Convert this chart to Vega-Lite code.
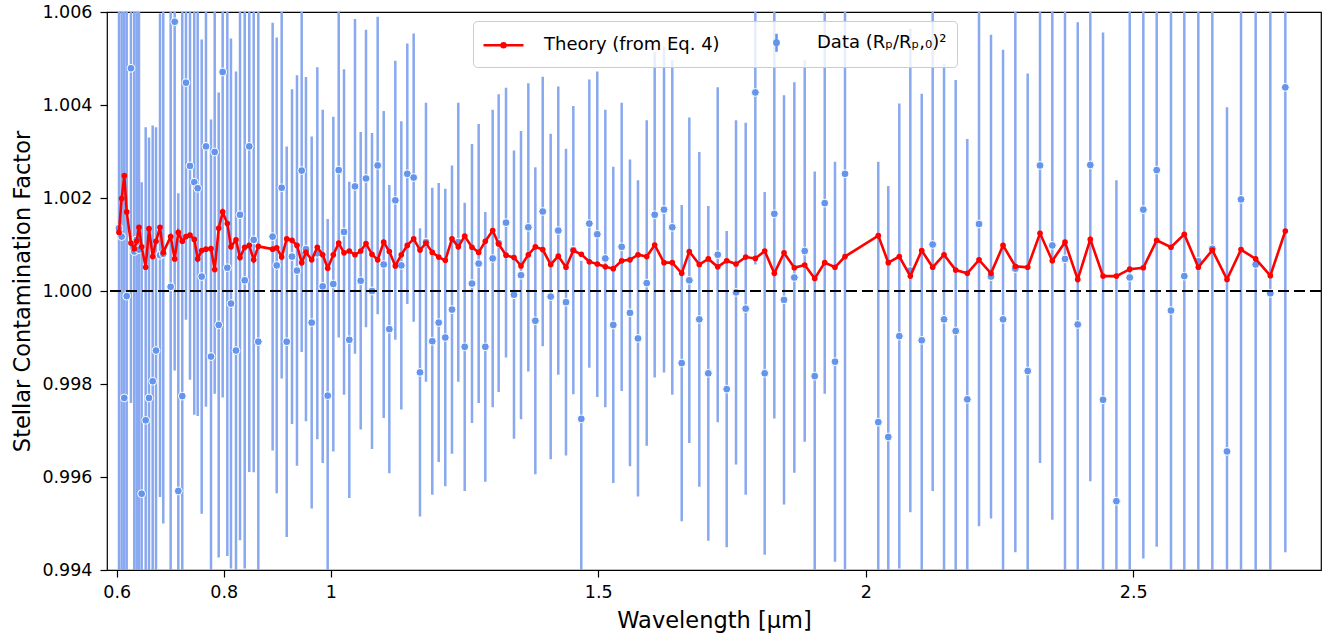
{
"$schema":"https://vega.github.io/schema/vega-lite/v6.json",
"width":1214,"height":558,
"autosize":{"type":"none"},
"padding":{"left":107,"top":12,"right":12,"bottom":70},
"background":"white",
"config":{
 "font":"DejaVu Sans",
 "view":{"stroke":"#000000","strokeWidth":1.2},
 "axis":{"grid":false,"domain":false,"tickColor":"#000000","tickWidth":1.2,"tickSize":7,"labelColor":"#000000","labelFontSize":17.5,"titleColor":"#000000","titleFontSize":22.5,"titleFontWeight":"normal","labelFont":"DejaVu Sans","titleFont":"DejaVu Sans"}
},
"data":{"values":[
{"l":0.6043,"t":1.00126,"d":1.00135,"e":0.0090},
{"l":0.6093,"t":1.00199,"d":1.00117,"e":0.0095},
{"l":0.6142,"t":1.00248,"d":0.99770,"e":0.0090},
{"l":0.6187,"t":1.00170,"d":0.99989,"e":0.0092},
{"l":0.6267,"t":1.00103,"d":1.00479,"e":0.0072},
{"l":0.6329,"t":1.00091,"d":1.00085,"e":0.0090},
{"l":0.6374,"t":1.00107,"d":1.00110,"e":0.0085},
{"l":0.6417,"t":1.00137,"d":1.00089,"e":0.0088},
{"l":0.6467,"t":1.00095,"d":0.99564,"e":0.0067},
{"l":0.6542,"t":1.00051,"d":0.99722,"e":0.0063},
{"l":0.6604,"t":1.00134,"d":0.99770,"e":0.0056},
{"l":0.6673,"t":1.00074,"d":0.99806,"e":0.0055},
{"l":0.6735,"t":1.00107,"d":0.99872,"e":0.0048},
{"l":0.6810,"t":1.00137,"d":1.00077,"e":0.0052},
{"l":0.6871,"t":1.00083,"d":1.00080,"e":0.0058},
{"l":0.7009,"t":1.00117,"d":1.00009,"e":0.0075},
{"l":0.7084,"t":1.00069,"d":1.00579,"e":0.0075},
{"l":0.7152,"t":1.00126,"d":0.99570,"e":0.0064},
{"l":0.7226,"t":1.00107,"d":0.99774,"e":0.0085},
{"l":0.7295,"t":1.00117,"d":1.00448,"e":0.0051},
{"l":0.7370,"t":1.00120,"d":1.00269,"e":0.0046},
{"l":0.7450,"t":1.00111,"d":1.00234,"e":0.0050},
{"l":0.7514,"t":1.00069,"d":1.00221,"e":0.0049},
{"l":0.7589,"t":1.00087,"d":1.00031,"e":0.0051},
{"l":0.7669,"t":1.00090,"d":1.00311,"e":0.0056},
{"l":0.7763,"t":1.00091,"d":0.99859,"e":0.0051},
{"l":0.7832,"t":1.00046,"d":1.00299,"e":0.0052},
{"l":0.7907,"t":1.00135,"d":0.99927,"e":0.0050},
{"l":0.7981,"t":1.00170,"d":1.00471,"e":0.0070},
{"l":0.8068,"t":1.00145,"d":1.00050,"e":0.0062},
{"l":0.8136,"t":1.00095,"d":0.99973,"e":0.0057},
{"l":0.8230,"t":1.00110,"d":0.99872,"e":0.0060},
{"l":0.8305,"t":1.00072,"d":1.00164,"e":0.0070},
{"l":0.8393,"t":1.00094,"d":1.00023,"e":0.0062},
{"l":0.8478,"t":1.00098,"d":1.00311,"e":0.0070},
{"l":0.8561,"t":1.00067,"d":1.00110,"e":0.0050},
{"l":0.8647,"t":1.00096,"d":0.99891,"e":0.0075},
{"l":0.8915,"t":1.00090,"d":1.00117,"e":0.0046},
{"l":0.8991,"t":1.00093,"d":1.00055,"e":0.0049},
{"l":0.9084,"t":1.00073,"d":1.00222,"e":0.0041},
{"l":0.9178,"t":1.00112,"d":0.99891,"e":0.0042},
{"l":0.9277,"t":1.00109,"d":1.00074,"e":0.0036},
{"l":0.9370,"t":1.00098,"d":1.00044,"e":0.0042},
{"l":0.9458,"t":1.00061,"d":1.00259,"e":0.0039},
{"l":0.9538,"t":1.00083,"d":1.00090,"e":0.0037},
{"l":0.9645,"t":1.00067,"d":0.99932,"e":0.0040},
{"l":0.9750,"t":1.00094,"d":1.00081,"e":0.0040},
{"l":0.9851,"t":1.00078,"d":1.00010,"e":0.0038},
{"l":0.9944,"t":1.00049,"d":0.99775,"e":0.0038},
{"l":1.0049,"t":1.00078,"d":1.00015,"e":0.0036},
{"l":1.0150,"t":1.00103,"d":1.00260,"e":0.0036},
{"l":1.0249,"t":1.00082,"d":1.00127,"e":0.0035},
{"l":1.0348,"t":1.00086,"d":0.99895,"e":0.0034},
{"l":1.0454,"t":1.00078,"d":1.00225,"e":0.0036},
{"l":1.0561,"t":1.00086,"d":1.00022,"e":0.0032},
{"l":1.0660,"t":1.00102,"d":1.00242,"e":0.0032},
{"l":1.0772,"t":1.00079,"d":1.00000,"e":0.0034},
{"l":1.0878,"t":1.00067,"d":1.00270,"e":0.0032},
{"l":1.0991,"t":1.00105,"d":1.00057,"e":0.0033},
{"l":1.1096,"t":1.00085,"d":0.99918,"e":0.0031},
{"l":1.1208,"t":1.00054,"d":1.00195,"e":0.0030},
{"l":1.1320,"t":1.00078,"d":1.00055,"e":0.0031},
{"l":1.1432,"t":1.00098,"d":1.00252,"e":0.0028},
{"l":1.1551,"t":1.00112,"d":1.00244,"e":0.0031},
{"l":1.1669,"t":1.00088,"d":0.99825,"e":0.0031},
{"l":1.1781,"t":1.00103,"d":1.00105,"e":0.0030},
{"l":1.1899,"t":1.00083,"d":0.99892,"e":0.0033},
{"l":1.2019,"t":1.00073,"d":0.99932,"e":0.0030},
{"l":1.2142,"t":1.00066,"d":0.99900,"e":0.0032},
{"l":1.2267,"t":1.00112,"d":0.99960,"e":0.0031},
{"l":1.2385,"t":1.00095,"d":1.00105,"e":0.0030},
{"l":1.2505,"t":1.00118,"d":0.99880,"e":0.0031},
{"l":1.2641,"t":1.00094,"d":1.00016,"e":0.0030},
{"l":1.2766,"t":1.00083,"d":1.00059,"e":0.0030},
{"l":1.2890,"t":1.00107,"d":0.99880,"e":0.0029},
{"l":1.3028,"t":1.00130,"d":1.00070,"e":0.0032},
{"l":1.3140,"t":1.00101,"d":1.00103,"e":0.0032},
{"l":1.3277,"t":1.00077,"d":1.00147,"e":0.0029},
{"l":1.3426,"t":1.00072,"d":0.99992,"e":0.0031},
{"l":1.3557,"t":1.00054,"d":1.00034,"e":0.0031},
{"l":1.3694,"t":1.00078,"d":1.00137,"e":0.0031},
{"l":1.3825,"t":1.00095,"d":0.99936,"e":0.0033},
{"l":1.3963,"t":1.00089,"d":1.00171,"e":0.0029},
{"l":1.4112,"t":1.00057,"d":0.99988,"e":0.0035},
{"l":1.4254,"t":1.00075,"d":1.00130,"e":0.0031},
{"l":1.4398,"t":1.00051,"d":0.99976,"e":0.0033},
{"l":1.4535,"t":1.00087,"d":1.00088,"e":0.0031},
{"l":1.4684,"t":1.00079,"d":0.99725,"e":0.0034},
{"l":1.4834,"t":1.00063,"d":1.00145,"e":0.0031},
{"l":1.4983,"t":1.00058,"d":1.00122,"e":0.0035},
{"l":1.5133,"t":1.00052,"d":1.00070,"e":0.0032},
{"l":1.5282,"t":1.00048,"d":0.99927,"e":0.0034},
{"l":1.5439,"t":1.00065,"d":1.00095,"e":0.0031},
{"l":1.5594,"t":1.00067,"d":0.99953,"e":0.0033},
{"l":1.5744,"t":1.00078,"d":0.99898,"e":0.0034},
{"l":1.5907,"t":1.00074,"d":1.00017,"e":0.0035},
{"l":1.6056,"t":1.00099,"d":1.00164,"e":0.0035},
{"l":1.6230,"t":1.00061,"d":1.00175,"e":0.0035},
{"l":1.6385,"t":1.00061,"d":1.00137,"e":0.0036},
{"l":1.6561,"t":1.00038,"d":0.99845,"e":0.0034},
{"l":1.6703,"t":1.00085,"d":1.00023,"e":0.0035},
{"l":1.6890,"t":1.00057,"d":0.99939,"e":0.0036},
{"l":1.7058,"t":1.00069,"d":0.99823,"e":0.0036},
{"l":1.7234,"t":1.00052,"d":1.00078,"e":0.0036},
{"l":1.7402,"t":1.00065,"d":0.99789,"e":0.0034},
{"l":1.7576,"t":1.00058,"d":0.99997,"e":0.0037},
{"l":1.7757,"t":1.00073,"d":0.99962,"e":0.0040},
{"l":1.7937,"t":1.00070,"d":1.00427,"e":0.0037},
{"l":1.8112,"t":1.00086,"d":0.99823,"e":0.0039},
{"l":1.8292,"t":1.00038,"d":1.00166,"e":0.0044},
{"l":1.8473,"t":1.00082,"d":0.99981,"e":0.0044},
{"l":1.8666,"t":1.00050,"d":1.00029,"e":0.0042},
{"l":1.8860,"t":1.00056,"d":1.00086,"e":0.0041},
{"l":1.9047,"t":1.00027,"d":0.99817,"e":0.0044},
{"l":1.9234,"t":1.00061,"d":1.00189,"e":0.0041},
{"l":1.9426,"t":1.00051,"d":0.99848,"e":0.0043},
{"l":1.9613,"t":1.00074,"d":1.00252,"e":0.0085},
{"l":2.0235,"t":1.00119,"d":0.99718,"e":0.0056},
{"l":2.0422,"t":1.00061,"d":0.99686,"e":0.0054},
{"l":2.0628,"t":1.00074,"d":0.99903,"e":0.0050},
{"l":2.0834,"t":1.00032,"d":1.00044,"e":0.0052},
{"l":2.1047,"t":1.00087,"d":0.99894,"e":0.0053},
{"l":2.1252,"t":1.00051,"d":1.00100,"e":0.0053},
{"l":2.1464,"t":1.00078,"d":0.99939,"e":0.0055},
{"l":2.1682,"t":1.00045,"d":0.99914,"e":0.0054},
{"l":2.1899,"t":1.00038,"d":0.99767,"e":0.0056},
{"l":2.2118,"t":1.00067,"d":1.00144,"e":0.0065},
{"l":2.2342,"t":1.00038,"d":1.00031,"e":0.0052},
{"l":2.2567,"t":1.00098,"d":0.99939,"e":0.0058},
{"l":2.2797,"t":1.00053,"d":1.00048,"e":0.0061},
{"l":2.3028,"t":1.00051,"d":0.99828,"e":0.0064},
{"l":2.3258,"t":1.00124,"d":1.00270,"e":0.0064},
{"l":2.3488,"t":1.00065,"d":1.00098,"e":0.0059},
{"l":2.3725,"t":1.00105,"d":1.00069,"e":0.0068},
{"l":2.3963,"t":1.00025,"d":0.99928,"e":0.0065},
{"l":2.4198,"t":1.00111,"d":1.00271,"e":0.0068},
{"l":2.4436,"t":1.00032,"d":0.99766,"e":0.0079},
{"l":2.4686,"t":1.00032,"d":0.99548,"e":0.0069},
{"l":2.4935,"t":1.00047,"d":1.00029,"e":0.0068},
{"l":2.5189,"t":1.00050,"d":1.00175,"e":0.0075},
{"l":2.5439,"t":1.00109,"d":1.00260,"e":0.0081},
{"l":2.5706,"t":1.00094,"d":0.99958,"e":0.0072},
{"l":2.5955,"t":1.00122,"d":1.00032,"e":0.0072},
{"l":2.6217,"t":1.00051,"d":1.00064,"e":0.0072},
{"l":2.6479,"t":1.00088,"d":1.00091,"e":0.0075},
{"l":2.6753,"t":1.00025,"d":0.99655,"e":0.0074},
{"l":2.7015,"t":1.00089,"d":1.00197,"e":0.0085},
{"l":2.7289,"t":1.00069,"d":1.00057,"e":0.0072},
{"l":2.7563,"t":1.00033,"d":0.99995,"e":0.0072},
{"l":2.7843,"t":1.00129,"d":1.00438,"e":0.0100}
]},
"layer":[
 {"mark":{"type":"errorbar","color":"#88A8EF","thickness":2.5},
  "encoding":{
   "x":{"field":"l","type":"quantitative","scale":{"domain":[0.5819,2.851],"nice":false,"zero":false},"axis":{"values":[0.6,0.8,1,1.5,2,2.5],"format":"~g","title":"Wavelength [μm]","labelPadding":6,"titlePadding":9}},
   "y":{"field":"d","type":"quantitative","scale":{"domain":[0.994,1.006],"nice":false,"zero":false,"clamp":true},"axis":{"values":[0.994,0.996,0.998,1,1.002,1.004,1.006],"format":".3f","title":"Stellar Contamination Factor","labelPadding":8,"titlePadding":7}},
   "yError":{"field":"e"}
  }},
 {"mark":{"type":"circle","stroke":"white","strokeWidth":1,"size":62,"opacity":1},
  "encoding":{
   "x":{"field":"l","type":"quantitative","title":"Wavelength [μm]"},
   "y":{"field":"d","type":"quantitative","title":"Stellar Contamination Factor"},
   "color":{"datum":"Data (Rₚ/Rₚ,₀)²","type":"nominal",
    "scale":{"domain":["Theory (from Eq. 4)","Data (Rₚ/Rₚ,₀)²"],"range":["#ff0000","#6495ED"]}}
  }},
 {"mark":{"type":"rule","color":"#000000","strokeWidth":2,"strokeDash":[11,5]},
  "encoding":{"y":{"datum":1,"type":"quantitative","title":"Stellar Contamination Factor"}}},
 {"mark":{"type":"line","strokeWidth":2.6},
  "encoding":{
   "x":{"field":"l","type":"quantitative","title":"Wavelength [μm]"},
   "y":{"field":"t","type":"quantitative","title":"Stellar Contamination Factor"},
   "color":{"datum":"Theory (from Eq. 4)","type":"nominal"}
  }},
 {"mark":{"type":"circle","size":32,"opacity":1},
  "encoding":{
   "x":{"field":"l","type":"quantitative","title":"Wavelength [μm]"},
   "y":{"field":"t","type":"quantitative","title":"Stellar Contamination Factor"},
   "color":{"datum":"Theory (from Eq. 4)","type":"nominal"}
  }},
 {"transform":[{"filter":"false"}],
  "mark":{"type":"point","filled":false,"opacity":1,"strokeWidth":2.5},
  "encoding":{
   "x":{"field":"l","type":"quantitative","title":"Wavelength [μm]"},
   "y":{"field":"t","type":"quantitative","title":"Stellar Contamination Factor"},
   "color":{"datum":"Theory (from Eq. 4)","type":"nominal",
    "legend":{"title":null,"orient":"none","legendX":366,"legendY":9,"direction":"horizontal","columns":2,"columnPadding":36,"padding":10,"symbolSize":400,"symbolOffset":9,"labelOffset":29,"labelFontSize":18,"labelLimit":400,"labelColor":"#000000","labelFont":"DejaVu Sans","strokeColor":"#cccccc","fillColor":"rgba(255,255,255,0.8)","cornerRadius":4,"symbolStrokeWidth":2.5}},
   "shape":{"datum":"Theory (from Eq. 4)","type":"nominal",
    "scale":{"domain":["Theory (from Eq. 4)","Data (Rₚ/Rₚ,₀)²"],"range":["M-2,0H2M-0.2,0A0.2,0.2 0 1,0 0.2,0A0.2,0.2 0 1,0 -0.2,0","M0,-0.9V0.9M-0.22,0A0.22,0.22 0 1,0 0.22,0A0.22,0.22 0 1,0 -0.22,0"]},
    "legend":{"title":null,"orient":"none","legendX":366,"legendY":9,"direction":"horizontal","columns":2,"columnPadding":36,"padding":10,"symbolSize":400,"symbolOffset":9,"labelOffset":29,"labelFontSize":18,"labelLimit":400,"labelColor":"#000000","labelFont":"DejaVu Sans","strokeColor":"#cccccc","fillColor":"rgba(255,255,255,0.8)","cornerRadius":4,"symbolStrokeWidth":2.5}}
  }}
]
}
